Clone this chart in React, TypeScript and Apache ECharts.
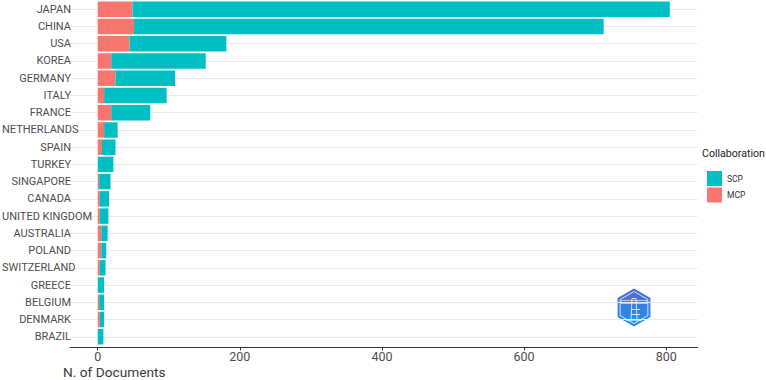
import React, { useEffect, useRef } from "react";
import * as echarts from "echarts";

const categories = [
  "JAPAN", "CHINA", "USA", "KOREA", "GERMANY", "ITALY", "FRANCE", "NETHERLANDS",
  "SPAIN", "TURKEY", "SINGAPORE", "CANADA", "UNITED KINGDOM", "AUSTRALIA",
  "POLAND", "SWITZERLAND", "GREECE", "BELGIUM", "DENMARK", "BRAZIL",
];
const mcpValues = [49, 51, 45, 19, 25, 9, 19, 9, 6, 0, 2, 3, 3, 5, 5, 3, 0, 2, 3, 0];
const scpValues = [756, 661, 136, 133, 84, 88, 55, 19, 19, 22, 16, 13, 12, 9, 7, 8, 9, 7, 6, 8];
const xTicks = [0, 200, 400, 600, 800];
const legendNames = ["SCP", "MCP"];

const FONT = "Roboto";
const LABEL_SIZE = 11;
const GRID_LEFT = 70;
const LABEL_MARGIN = -1;
const LABEL_MIN_LEFT = 2;

function hexPoints(cx: number, cy: number, r: number) {
  const pts: number[][] = [];
  for (let i = 0; i < 6; i++) {
    const a = (Math.PI / 3) * i - Math.PI / 2;
    pts.push([cx + r * Math.cos(a), cy + r * Math.sin(a)]);
  }
  return pts;
}

function measure(text: string): number {
  const c = document.createElement("canvas").getContext("2d");
  if (!c) return 0;
  c.font = `${LABEL_SIZE}px ${FONT}`;
  return c.measureText(text).width;
}

export default function App() {
  const ref = useRef<HTMLDivElement>(null);

  useEffect(() => {
    if (!ref.current) return;
    const chart = echarts.init(ref.current, null, { renderer: "svg" });
    const cx = 634;
    const cy = 307.5;
    const anchor = GRID_LEFT - LABEL_MARGIN;
    const yData = categories.map((c) => {
      const w = measure(c);
      if (anchor - w < LABEL_MIN_LEFT) {
        return {
          value: c,
          textStyle: { align: "left", padding: [0, 0, 0, LABEL_MIN_LEFT - anchor] },
        };
      }
      return c;
    });
    const option: any = {
      animation: false,
      backgroundColor: "#ffffff",
      grid: {
        left: GRID_LEFT,
        right: 68.5,
        top: 0.6,
        height: 344.8,
        containLabel: false,
        outerBoundsMode: "none",
      },
      legend: {
        data: legendNames,
        orient: "vertical",
        left: 702,
        top: 166,
        itemWidth: 15,
        itemHeight: 15,
        itemGap: 1.5,
        icon: "rect",
        selectedMode: false,
        textStyle: { fontFamily: FONT, fontSize: 8.5, color: "#333" },
      },
      xAxis: {
        type: "value",
        min: -39,
        max: 844,
        offset: 2,
        axisLine: { show: true, lineStyle: { color: "#333", width: 1 } },
        axisTick: {
          show: true,
          customValues: xTicks,
          length: 3,
          lineStyle: { color: "#333", width: 1 },
        },
        axisLabel: {
          customValues: xTicks,
          margin: 3,
          fontFamily: FONT,
          fontSize: 12.5,
          color: "#4d4d4d",
        },
        splitLine: { show: false },
      },
      yAxis: {
        type: "category",
        data: yData,
        inverse: true,
        axisLine: { show: false },
        axisTick: { show: false, alignWithLabel: true },
        axisLabel: {
          margin: LABEL_MARGIN,
          fontFamily: FONT,
          fontSize: LABEL_SIZE,
          color: "#4d4d4d",
          interval: 0,
        },
        splitLine: {
          show: true,
          alignWithLabel: true,
          lineStyle: { color: "#ebebeb", width: 1 },
        },
      },
      series: [
        {
          name: "MCP",
          type: "bar",
          stack: "total",
          barWidth: "90%",
          itemStyle: { color: "#F8766D" },
          data: mcpValues,
        },
        {
          name: "SCP",
          type: "bar",
          stack: "total",
          barWidth: "90%",
          itemStyle: { color: "#00BFC4" },
          data: scpValues,
        },
      ],
      graphic: [
        {
          type: "text",
          left: 702,
          top: 148,
          style: { text: "Collaboration", fontFamily: FONT, fontSize: 10.6, fill: "#222" },
        },
        {
          type: "text",
          left: 63,
          top: 365,
          style: { text: "N. of Documents", fontFamily: FONT, fontSize: 13.7, fill: "#3a3a3a" },
        },
        {
          type: "group",
          children: [
            {
              type: "polygon",
              shape: { points: hexPoints(cx, cy, 19) },
              style: {
                fill: new echarts.graphic.LinearGradient(0, 0, 0, 1, [
                  { offset: 0, color: "#4d6bd6" },
                  { offset: 1, color: "#1e96f0" },
                ]),
              },
            },
            {
              type: "polygon",
              shape: { points: hexPoints(cx, cy, 16) },
              style: { fill: "none", stroke: "#ffffff", lineWidth: 0.8 },
            },
            {
              type: "rect",
              shape: { x: cx - 13, y: cy - 7, width: 26, height: 3 },
              style: { fill: "none", stroke: "#ffffff", lineWidth: 0.6 },
            },
            {
              type: "polygon",
              shape: {
                points: [
                  [cx - 2, cy - 9],
                  [cx + 2, cy - 9],
                  [cx + 3, cy + 12],
                  [cx - 3, cy + 12],
                ],
              },
              style: { fill: "none", stroke: "#ffffff", lineWidth: 0.8 },
            },
            {
              type: "line",
              shape: { x1: cx - 2.5, y1: cy + 2, x2: cx + 6, y2: cy + 2 },
              style: { stroke: "#ffffff", lineWidth: 0.8 },
            },
            {
              type: "line",
              shape: { x1: cx - 2.8, y1: cy + 7, x2: cx + 6, y2: cy + 7 },
              style: { stroke: "#ffffff", lineWidth: 0.8 },
            },
            {
              type: "line",
              shape: { x1: cx - 8, y1: cy + 13, x2: cx + 8, y2: cy + 13 },
              style: { stroke: "#ffffff", lineWidth: 0.6 },
            },
          ],
        },
      ],
    };
    chart.setOption(option);
    return () => chart.dispose();
  }, []);

  return (
    <div
      ref={ref}
      style={{ position: "fixed", left: 0, top: 0, width: 766, height: 380 }}
    />
  );
}
